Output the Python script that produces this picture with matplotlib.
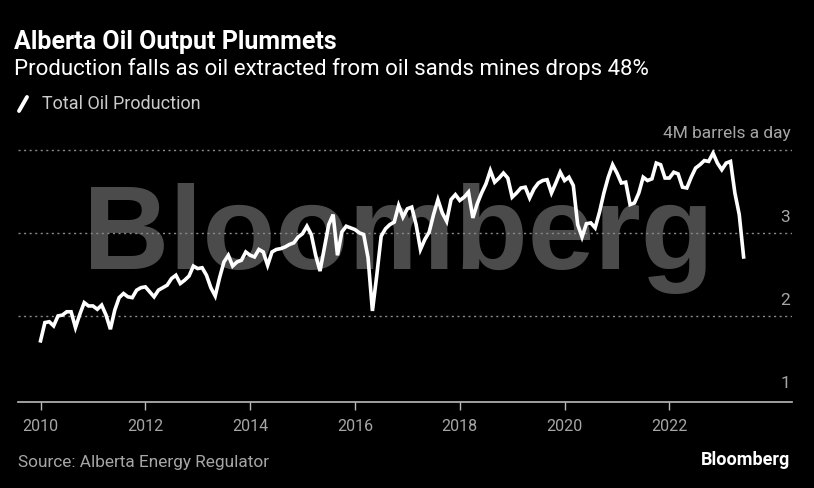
import numpy as np
import matplotlib.pyplot as plt

# monthly total oil production, million barrels a day, Jan 2010 - Jun 2023
production = [
    1.70, 1.92, 1.93, 1.88, 2.00, 2.01, 2.05, 2.05, 1.86, 2.02, 2.16, 2.12,  # 2010
    2.12, 2.08, 2.13, 2.01, 1.84, 2.07, 2.22, 2.27, 2.23, 2.22, 2.31, 2.34,  # 2011
    2.35, 2.29, 2.23, 2.31, 2.34, 2.37, 2.45, 2.49, 2.39, 2.43, 2.48, 2.60,  # 2012
    2.57, 2.58, 2.49, 2.34, 2.24, 2.46, 2.65, 2.73, 2.60, 2.65, 2.67, 2.77,  # 2013
    2.73, 2.71, 2.80, 2.77, 2.61, 2.77, 2.80, 2.81, 2.83, 2.86, 2.88, 2.95,  # 2014
    2.99, 3.08, 2.98, 2.73, 2.54, 2.82, 3.10, 3.22, 2.73, 3.01, 3.08, 3.06,  # 2015
    3.04, 3.00, 2.98, 2.70, 2.06, 2.49, 2.96, 3.05, 3.10, 3.13, 3.33, 3.19,  # 2016
    3.29, 3.31, 3.10, 2.80, 2.92, 3.01, 3.22, 3.40, 3.24, 3.14, 3.40, 3.46,  # 2017
    3.39, 3.43, 3.49, 3.18, 3.35, 3.48, 3.59, 3.75, 3.61, 3.66, 3.72, 3.66,  # 2018
    3.43, 3.48, 3.54, 3.55, 3.42, 3.53, 3.60, 3.63, 3.64, 3.48, 3.60, 3.73,  # 2019
    3.63, 3.67, 3.57, 3.10, 2.95, 3.11, 3.12, 3.06, 3.25, 3.48, 3.67, 3.82,  # 2020
    3.72, 3.60, 3.61, 3.34, 3.36, 3.48, 3.67, 3.63, 3.65, 3.84, 3.82, 3.66,  # 2021
    3.66, 3.73, 3.71, 3.55, 3.54, 3.67, 3.78, 3.82, 3.87, 3.86, 3.96, 3.84,  # 2022
    3.76, 3.84, 3.86, 3.48, 3.22, 2.71,                                      # 2023
]
x_years = 2010 + np.arange(len(production)) / 12

year_ticks = [2010, 2012, 2014, 2016, 2018, 2020, 2022]
y_ticks = [1, 2, 3, 4]
y_labels = ["1", "2", "3", "4M barrels a day"]

FONT = "Roboto"
BG = "black"
GREY = "#a6a6a6"

fig = plt.figure(figsize=(8.14, 4.88), dpi=100, facecolor=BG)
ax = fig.add_axes([18 / 814, 0.1756, 774 / 814, 0.560], facecolor=BG)

ax.set_xlim(2009.57, 2024.34)
ax.set_ylim(0.96, 4.25)

# watermark
ax.text(0.084, 0.60, "Bloomberg", transform=ax.transAxes, fontsize=86,
        fontweight="bold", family="Liberation Sans", color="#4b4b4b",
        ha="left", va="center", zorder=0)

# gridlines
for v in y_ticks[1:]:
    ax.axhline(v, color="#8a8a8a", lw=1.0, ls=(0, (1.5, 2.5)), zorder=1)

ax.plot(x_years, production, color="white", lw=2.6, zorder=3,
        solid_joinstyle="miter")

# right-side y labels above gridlines
for v, lab in zip(y_ticks, y_labels):
    ax.text(0.998, v + 0.10, lab, transform=ax.get_yaxis_transform(),
            ha="right", va="bottom", color=GREY, fontsize=12.5, family=FONT)

ax.set_yticks([])
ax.set_xticks(year_ticks)
ax.set_xticklabels([str(y) for y in year_ticks], family=FONT, fontsize=11.5,
                   color=GREY)
ax.tick_params(axis="x", colors="#bbbbbb", length=6, width=1, pad=6,
               labelcolor=GREY)
for s in ["top", "right", "left"]:
    ax.spines[s].set_visible(False)
ax.spines["bottom"].set_color("#bbbbbb")
ax.spines["bottom"].set_linewidth(1.2)

# titles and legend
fig.text(14 / 814, 1 - 42 / 488, "Alberta Oil Output Plummets", color="white",
         fontsize=18, fontweight="bold", family=FONT, va="center")
fig.text(14 / 814, 1 - 69 / 488,
         "Production falls as oil extracted from oil sands mines drops 48%",
         color="white", fontsize=16, family=FONT, va="center")
fig.lines.append(plt.Line2D([19 / 814, 27 / 814], [1 - 111 / 488, 1 - 97 / 488],
                            transform=fig.transFigure, color="white", lw=2.8,
                            solid_capstyle="round"))
fig.text(42 / 814, 1 - 104 / 488, "Total Oil Production", color="#cccccc",
         fontsize=13, family=FONT, va="center")

fig.text(18 / 814, 1 - 462 / 488, "Source: Alberta Energy Regulator",
         color=GREY, fontsize=12.4, family=FONT, va="center")
fig.text(790 / 814, 1 - 460 / 488, "Bloomberg", color="white", fontsize=13,
         fontweight="bold", family=FONT, va="center", ha="right")

fig.savefig("out.png", dpi=100, facecolor=BG)
